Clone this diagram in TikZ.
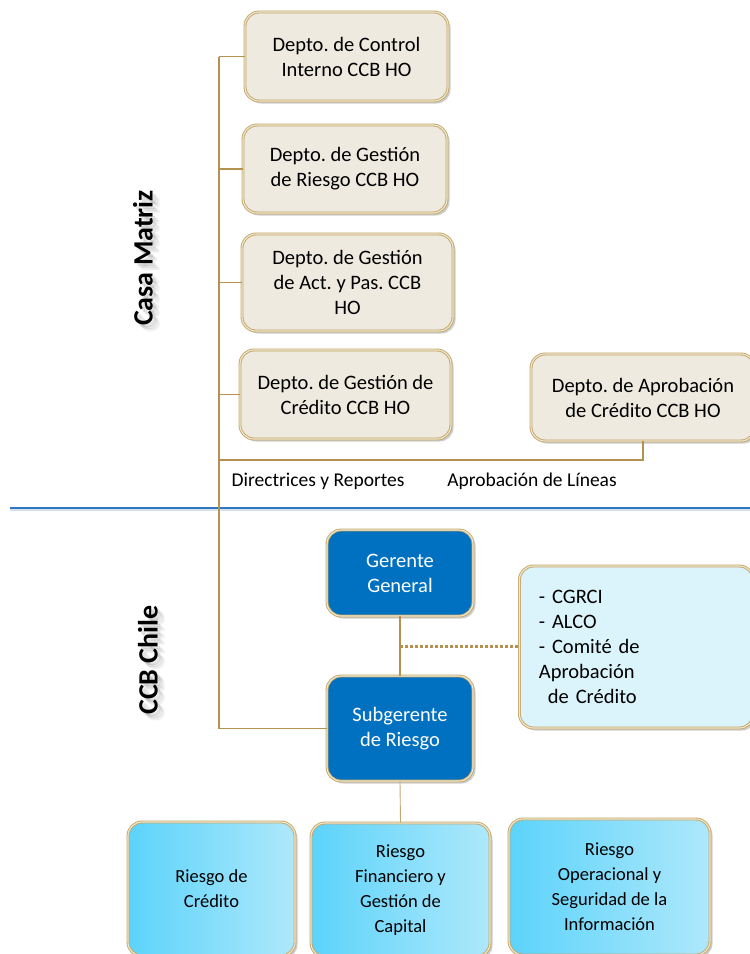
\documentclass[tikz,border=0pt]{standalone}
\usepackage{fontspec}
\setmainfont{Carlito}
\usetikzlibrary{shadows,calc}
\definecolor{bord}{HTML}{C2A66C}
\definecolor{bordin}{HTML}{F1E8CC}
\definecolor{beige}{HTML}{EEEADF}
\definecolor{conn}{HTML}{B4914F}
\definecolor{dblue}{HTML}{0070C0}
\definecolor{comfill}{HTML}{DBF4FC}
\definecolor{cyanA}{HTML}{5CD3FB}
\definecolor{cyanB}{HTML}{AEE8FB}
\definecolor{sep}{HTML}{2F77BA}
\begin{document}
\frenchspacing
\begin{tikzpicture}[x=1pt,y=-1pt,
  box/.style={rounded corners=14pt, draw=bord, double=bordin, double distance=1.1pt, line width=0.9pt,
    drop shadow={shadow xshift=2.5pt, shadow yshift=-2.5pt, opacity=0.28, fill=black!70},
    align=center, inner sep=0pt, font=\fontsize{20.5}{25}\selectfont},
  hobox/.style={box, fill=beige},
  mgr/.style={box, fill=dblue, text=white},
  combox/.style={box, fill=comfill, align=left},
  riskbox/.style={box, shading=axis, shading angle=135, left color=cyanA, right color=cyanB,
    font=\fontsize{18.5}{25}\selectfont},
  link/.style={draw=conn, line width=1.8pt},
  thinlink/.style={draw=conn!80, line width=0.9pt},
  lbl/.style={font=\fontsize{19.5}{22}\selectfont, inner sep=0pt},
  side/.style={font=\fontsize{28}{30}\selectfont\bfseries, rotate=90, inner sep=0pt}
]
\useasboundingbox (0,0) rectangle (750,954);

% Casa Matriz boxes
\node[hobox, minimum width=203pt, minimum height=89pt] (ci) at (346.5,56.5) {Depto. de Control\\Interno CCB HO};
\node[hobox, minimum width=204pt, minimum height=88pt] (gr) at (345,169) {Depto. de Gestión\\de Riesgo CCB HO};
\node[hobox, minimum width=211pt, minimum height=97pt] (ap) at (347.5,282.5) {Depto. de Gestión\\de Act. y Pas. CCB\\HO};
\node[hobox, minimum width=211pt, minimum height=89pt] (gc) at (345.5,394.5) {Depto. de Gestión de\\Crédito CCB HO};
\node[hobox, minimum width=224pt, minimum height=87pt] (ac) at (643,397.5) {Depto. de Aprobación\\de Crédito CCB HO};

% labels
\node[lbl] (dir) at (318,481) {Directrices y Reportes};
\node[lbl] (apl) at (532,481) {Aprobación de Líneas};

% side titles with soft shadow
\foreach \d/\o in {3/0.10,5/0.08,7/0.06} {
  \node[side, text=black, opacity=\o] at (143+\d,258+\d) {Casa Matriz};
  \node[side, text=black, opacity=\o] at (148+\d,660+\d) {CCB Chile};
}
\node[side] (cm) at (143,258) {Casa Matriz};
\node[side] (cc) at (148,660) {CCB Chile};

% separator
\coordinate (sepL) at (10,508);
\coordinate (sepR) at (750,508);
\draw[sep!60!white, line width=2.5pt, opacity=0.35] ($(sepL)+(0,2)$) -- ($(sepR)+(0,2)$);
\draw[sep, line width=1.8pt] (sepL) -- (sepR);

% CCB Chile boxes
\node[mgr, minimum width=146pt, minimum height=86pt] (gg) at (400,573) {Gerente\\General};
\node[mgr, minimum width=146pt, minimum height=105pt] (sr) at (400,728.5) {Subgerente\\de Riesgo};
\node[combox, minimum width=234pt, minimum height=162pt, text width=195pt, anchor=west, inner xsep=19pt] (com) at (519,647)
  {- CGRCI\\- ALCO\\- Comité de\\Aprobación\\\hspace*{9pt}de Crédito};

\node[riskbox, minimum width=167pt, minimum height=134pt] (rc) at (211.5,889) {Riesgo de\\Crédito};
\node[riskbox, minimum width=179pt, minimum height=134pt] (rf) at (400.5,890) {Riesgo\\Financiero y\\Gestión de\\Capital};
\node[riskbox, minimum width=201pt, minimum height=136pt] (ro) at (609.5,887) {Riesgo\\Operacional y\\Seguridad de la\\Información};

% connectors
\coordinate (trunk) at (219,0);
\coordinate (lineY) at (0,460);
\draw[link] (ci.west -| trunk) -- (sr.west -| trunk) -- (sr.west);
\draw[link] (ci.west) -- (ci.west -| trunk);
\draw[link] (gr.west) -- (gr.west -| trunk);
\draw[link] (ap.west) -- (ap.west -| trunk);
\draw[link] (gc.west) -- (gc.west -| trunk);
\draw[link] (ac.south) |- (lineY -| trunk);
\draw[link] (gg.south) -- (sr.north);
\coordinate (dotL) at (400,646);
\draw[draw=conn, line width=3pt, dash pattern=on 3pt off 2pt] (dotL) -- (dotL -| com.west);
\draw[thinlink] (sr.south) -- (rf.north);
\end{tikzpicture}
\end{document}
